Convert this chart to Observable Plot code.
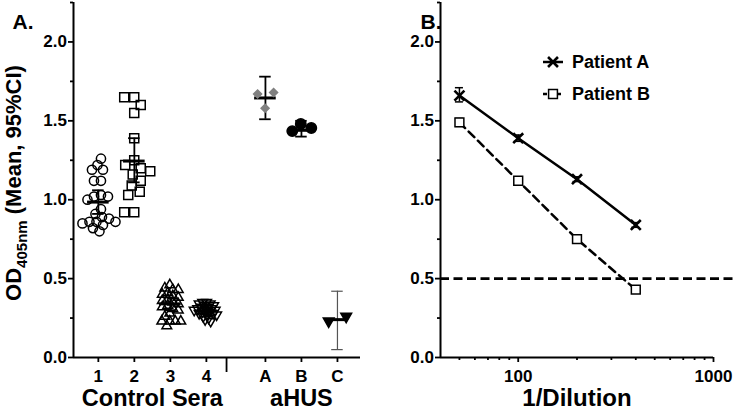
<!DOCTYPE html>
<html><head><meta charset="utf-8">
<script src="https://cdn.jsdelivr.net/npm/d3@7"></script>
<script src="https://cdn.jsdelivr.net/npm/@observablehq/plot@0.6"></script>
<style>
html,body{margin:0;padding:0;background:#fff;overflow:hidden}
#wrap{display:flex;width:733px;height:419px}
svg{font-family:"Liberation Sans",Arial,Helvetica,sans-serif}
</style></head><body><div id="wrap"></div>
<script>
// ---------- Panel A data ----------
const groupLabels = ["1", "2", "3", "4", "A", "B", "C"];
const sectionLabels = ["Control Sera", "aHUS"];
const g1 = [1.26, 1.22, 1.19, 1.19, 1.12, 1.12, 1.03, 1.02, 1.02, 1.00, 0.94, 0.91, 0.89, 0.88, 0.86, 0.86, 0.86, 0.85, 0.84, 0.82, 0.80];
const g2 = [1.65, 1.65, 1.60, 1.55, 1.39, 1.25, 1.22, 1.20, 1.18, 1.16, 1.12, 1.09, 1.05, 1.03, 0.92, 0.92];
const g3 = [0.46, 0.44, 0.43, 0.43, 0.41, 0.40, 0.39, 0.38, 0.37, 0.36, 0.35, 0.34, 0.33, 0.32, 0.31, 0.30, 0.28, 0.26, 0.23, 0.23, 0.23, 0.23, 0.20];
const g4 = [0.35, 0.35, 0.34, 0.34, 0.33, 0.33, 0.32, 0.32, 0.31, 0.31, 0.30, 0.30, 0.30, 0.29, 0.29, 0.28, 0.28, 0.27, 0.27, 0.26, 0.25, 0.24, 0.23];
const gA = [1.58, 1.67, 1.68];
const gB = [1.48, 1.435, 1.455];
const gC = [0.26, 0.23];
const groupValues = [g1, g2, g3, g4, gA, gB, gC];
const groupMeans = [0.985, 1.245, 0.34, 0.295, 1.645, 1.44, 0.24];
const groupCiLo = [0.91, 1.11, 0.30, 0.275, 1.51, 1.40, 0.05];
const groupCiHi = [1.06, 1.39, 0.38, 0.315, 1.78, 1.50, 0.42];

// ---------- Panel B data ----------
const dilutions = [50, 100, 200, 400];
const patientA = [1.66, 1.39, 1.13, 0.84];
const patientALo = [1.62, 1.37, 1.115, 0.825];
const patientAHi = [1.71, 1.41, 1.145, 0.855];
const patientB = [1.49, 1.12, 0.75, 0.43];
const patientBLo = [1.465, 1.11, 0.74, 0.42];
const patientBHi = [1.515, 1.13, 0.76, 0.44];
const seriesNames = ["Patient A", "Patient B"];
const cutoff = 0.5;

// ---------- ticks ----------
const yTicks = [0, 0.5, 1.0, 1.5, 2.0];
const yMinorTicks = [0.25, 0.75, 1.25, 1.75, 2.25];
const xTicksB = [100, 1000];
const xMinorTicksB = [50, 60, 70, 80, 90, 200, 300, 400, 500, 600, 700, 800, 900];

// ---------- layout helpers ----------
const GAP = 0.64;
const groupX = i => i + 1 + (i >= 4 ? GAP : 0);
const groupPositions = groupLabels.map((_, i) => groupX(i));
const KX = 36, KY = 157.8; // px per data unit (for the swarm layout)
const collide = [7, 10, 5.5, 3.6, 16, 11, 18];

function swarm(values, diam) {
  const placed = [];
  for (const v of values) {
    const py = v * KY;
    let off = 0;
    for (let k = 0; k < 600; k++) {
      const c = k === 0 ? 0 : (k % 2 ? -Math.ceil(k / 2) * 0.5 : Math.ceil(k / 2) * 0.5);
      if (placed.every(p => (p.x - c) ** 2 + (p.y - py) ** 2 >= diam * diam)) { off = c; break; }
    }
    placed.push({x: off, y: py});
  }
  const m = d3.mean(placed, p => p.x);
  return placed.map(p => (p.x - m) / KX);
}

const triDown = {
  draw(ctx, size) {
    const s3 = Math.sqrt(3);
    const y = -Math.sqrt(size / (s3 * 3));
    ctx.moveTo(0, -y * 2);
    ctx.lineTo(-s3 * y, y);
    ctx.lineTo(s3 * y, y);
    ctx.closePath();
  }
};
const symbols = ["circle", "square", "triangle", triDown, "diamond2", "circle", triDown];
const sizes = [4.6, 5.1, 3.6, 3.6, 3.6, 5.2, 4.0];
const fills = ["none", "none", "none", "none", "#808080", "black", "black"];
const strokes = ["black", "black", "black", "black", "#808080", "black", "black"];

const points = groupValues.map((vals, i) => {
  const offs = swarm(vals, collide[i]);
  return vals.map((v, j) => ({g: i, v, x: groupX(i) + offs[j]}));
});
const stats = groupLabels.map((lab, i) => ({i, x: groupX(i), mean: groupMeans[i], lo: groupCiLo[i], hi: groupCiHi[i]}));
const statsMain = stats.filter(d => d.i !== 6);
const statsC = stats.filter(d => d.i === 6);

const FONT = '"Liberation Sans", Arial, Helvetica, sans-serif';
const X0 = 0.31, X1 = 8.28;

const plotA = Plot.plot({
  width: 400, height: 419,
  marginLeft: 73, marginRight: 40, marginTop: 2, marginBottom: 62,
  x: {domain: [X0, X1], axis: null},
  y: {domain: [0, 2.25], axis: null},
  style: {fontFamily: FONT, fontSize: "17px", fontWeight: "bold", color: "black", background: "white", overflow: "visible"},
  marks: [
    Plot.axisY({ticks: yTicks, tickFormat: d3.format(".1f"), tickSize: 5, tickPadding: 1.5, strokeWidth: 1.8, label: null}),
    Plot.axisY({ticks: yMinorTicks, tickSize: 3, tickFormat: () => "", strokeWidth: 1.8, label: null}),
    Plot.axisX({ticks: groupPositions, tickFormat: d => groupLabels[groupPositions.indexOf(d)], tickSize: 5, tickPadding: 7, strokeWidth: 1.8, label: null}),
    Plot.ruleX([X0], {y1: () => 0, y2: () => 2.25, strokeWidth: 2}),
    Plot.ruleY([0], {x1: () => X0, x2: () => X1, strokeWidth: 2}),
    Plot.ruleX([(groupX(3) + groupX(4)) / 2 - 0.26], {y1: () => 0, y2: () => -0.095, strokeWidth: 1.8}),
    Plot.text(sectionLabels, {x: [d3.mean(groupPositions.slice(0, 4)), groupX(5)], text: d => d, frameAnchor: "bottom", dy: 48, fontSize: 23.5, fontWeight: "bold"}),
    Plot.text(["A."], {frameAnchor: "top-left", dx: -61, dy: 12, textAnchor: "start", fontSize: 21, fontWeight: "bold"}),
    // CI bars
    Plot.ruleX(statsMain, {x: "x", y1: "lo", y2: "hi", strokeWidth: 1.8}),
    Plot.ruleY(statsMain, {y: "lo", x1: d => d.x - 0.16, x2: d => d.x + 0.16, strokeWidth: 1.8}),
    Plot.ruleY(statsMain, {y: "hi", x1: d => d.x - 0.16, x2: d => d.x + 0.16, strokeWidth: 1.8}),
    Plot.ruleX(statsC, {x: "x", y1: "lo", y2: "hi", strokeWidth: 1.2, stroke: "#555"}),
    Plot.ruleY(statsC, {y: "lo", x1: d => d.x - 0.16, x2: d => d.x + 0.16, strokeWidth: 1.2, stroke: "#555"}),
    Plot.ruleY(statsC, {y: "hi", x1: d => d.x - 0.16, x2: d => d.x + 0.16, strokeWidth: 1.2, stroke: "#555"}),
    Plot.ruleY(stats, {y: "mean", x1: d => d.x - 0.3, x2: d => d.x + 0.3, strokeWidth: 3}),
    // points
    ...points.map((pts, i) => Plot.dot(pts, {x: "x", y: "v", symbol: symbols[i], r: sizes[i], fill: fills[i], stroke: strokes[i], strokeWidth: 1.5}))
  ]
});

// y-axis title with subscript
{
  const svg = d3.select(plotA);
  const t = svg.append("text")
    .attr("transform", "translate(21,183) rotate(-90)")
    .attr("text-anchor", "middle")
    .attr("font-family", FONT).attr("font-weight", "bold").attr("font-size", 22).attr("fill", "black");
  t.append("tspan").text("OD");
  t.append("tspan").attr("font-size", 15).attr("dy", 6).text("405nm");
  t.append("tspan").attr("dy", -6).text(" (Mean, 95%CI)");
}

// ---------- Panel B ----------
const rowsA = dilutions.map((x, i) => ({x, y: patientA[i], lo: patientALo[i], hi: patientAHi[i]}));
const rowsB = dilutions.map((x, i) => ({x, y: patientB[i], lo: patientBLo[i], hi: patientBHi[i]}));
const XB0 = 40, XB1 = 1000;
const capK = Math.pow(10, 4 / 194);

const plotB = Plot.plot({
  width: 333, height: 419,
  marginLeft: 40, marginRight: 20, marginTop: 2, marginBottom: 62,
  x: {type: "log", domain: [XB0, XB1], axis: null},
  y: {domain: [0, 2.25], axis: null},
  style: {fontFamily: FONT, fontSize: "17px", fontWeight: "bold", color: "black", background: "white", overflow: "visible"},
  marks: [
    Plot.axisY({ticks: yTicks, tickFormat: d3.format(".1f"), tickSize: 5, tickPadding: 1.5, strokeWidth: 1.8, label: null}),
    Plot.axisY({ticks: yMinorTicks, tickSize: 3, tickFormat: () => "", strokeWidth: 1.8, label: null}),
    Plot.axisX({ticks: xTicksB, tickFormat: d3.format("d"), tickSize: 5, tickPadding: 7, strokeWidth: 1.8, label: null}),
    Plot.axisX({ticks: xMinorTicksB, tickSize: 3, tickFormat: () => "", strokeWidth: 1.8, label: null}),
    Plot.ruleX([XB0], {y1: () => 0, y2: () => 2.25, strokeWidth: 2}),
    Plot.ruleY([0], {x1: () => XB0, x2: () => XB1, strokeWidth: 2}),
    Plot.text(["1/Dilution"], {frameAnchor: "bottom", dy: 48, fontSize: 24, fontWeight: "bold"}),
    Plot.text(["B."], {frameAnchor: "top-left", dx: -20, dy: 12, textAnchor: "start", fontSize: 21, fontWeight: "bold"}),
    Plot.ruleY([cutoff], {y: d => d, x1: () => XB0, x2: () => 1300, strokeWidth: 2.6, strokeDasharray: "9,4.5"}),
    Plot.line(rowsA, {x: "x", y: "y", strokeWidth: 2.5}),
    Plot.line(rowsB, {x: "x", y: "y", strokeWidth: 2.5, strokeDasharray: "8,5"}),
    ...[rowsA, rowsB].flatMap(rows => [
      Plot.ruleX(rows, {x: "x", y1: "lo", y2: "hi", strokeWidth: 1.5}),
      Plot.ruleY(rows, {y: "lo", x1: d => d.x / capK, x2: d => d.x * capK, strokeWidth: 1.5}),
      Plot.ruleY(rows, {y: "hi", x1: d => d.x / capK, x2: d => d.x * capK, strokeWidth: 1.5})
    ]),
    Plot.dot(rowsA, {x: "x", y: "y", symbol: "times", r: 4.6, stroke: "black", strokeWidth: 2.6}),
    Plot.dot(rowsB, {x: "x", y: "y", symbol: "square", r: 5, fill: "white", stroke: "black", strokeWidth: 1.5})
  ]
});

// legend (inside panel B)
{
  const svg = d3.select(plotB);
  const g = svg.append("g").attr("font-family", FONT).attr("font-weight", "bold").attr("font-size", 18).attr("text-anchor", "start");
  const rowsY = [62, 94];
  seriesNames.forEach((name, i) => {
    const y = rowsY[i];
    g.append("line").attr("x1", 143).attr("x2", 163).attr("y1", y).attr("y2", y)
      .attr("stroke", "black").attr("stroke-width", 2.5).attr("stroke-dasharray", i ? "4,3" : null);
    const sym = i ? d3.symbol(d3.symbolSquare, 78) : d3.symbol(d3.symbolTimes, 66);
    g.append("path").attr("d", sym()).attr("transform", `translate(153,${y})`)
      .attr("fill", i ? "white" : "none").attr("stroke", "black").attr("stroke-width", i ? 1.5 : 2.6);
    g.append("text").attr("x", 172).attr("y", y).attr("dy", "0.35em").attr("text-anchor", "start").attr("fill", "black").text(name);
  });
}

document.getElementById("wrap").append(plotA, plotB);
</script></body></html>
